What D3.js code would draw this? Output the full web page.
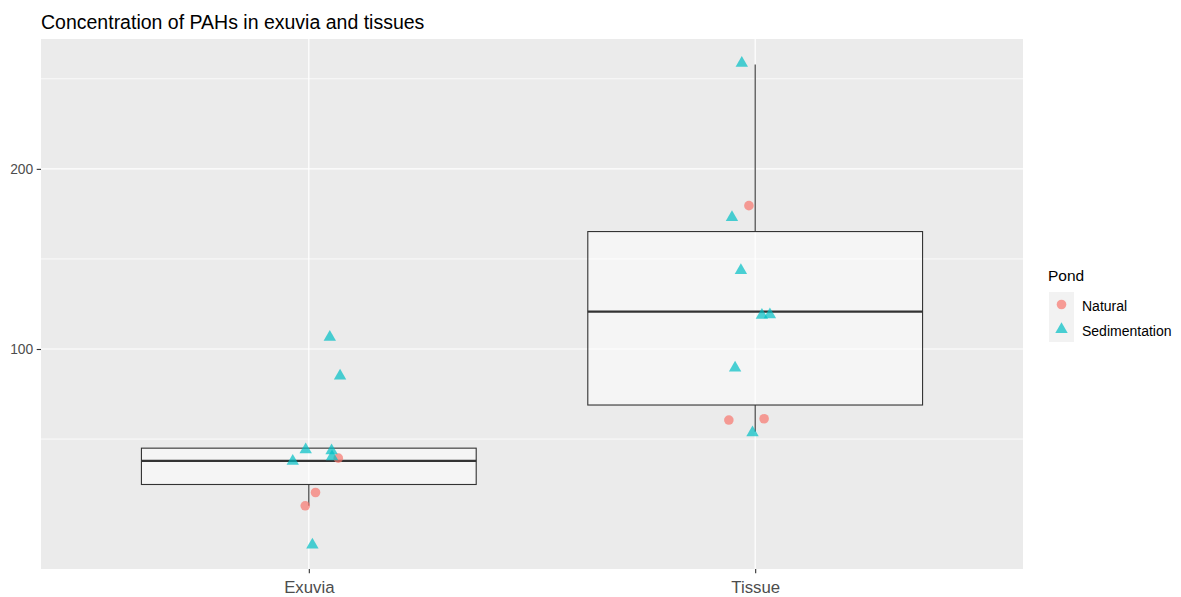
<!DOCTYPE html>
<html>
<head>
<meta charset="utf-8">
<script src="https://cdn.jsdelivr.net/npm/d3@7"></script>
<style>
  html, body { margin: 0; padding: 0; background: #ffffff; }
  svg { display: block; font-family: "Liberation Sans", Arial, sans-serif; }
</style>
</head>
<body>
<svg id="chart" width="1181" height="597"></svg>
<script>
// Categories and legend groups
const categories = ["Exuvia", "Tissue"];
const ponds = ["Natural", "Sedimentation"];
const pondColors = ["#F8766D", "#00BFC4"];

// Individual measurements (jittered horizontally within each category)
const pointCategory = [
  "Exuvia", "Exuvia", "Exuvia",
  "Exuvia", "Exuvia", "Exuvia", "Exuvia", "Exuvia", "Exuvia", "Exuvia",
  "Tissue", "Tissue", "Tissue",
  "Tissue", "Tissue", "Tissue", "Tissue", "Tissue", "Tissue", "Tissue"
];
const pointPond = [
  "Natural", "Natural", "Natural",
  "Sedimentation", "Sedimentation", "Sedimentation", "Sedimentation", "Sedimentation", "Sedimentation", "Sedimentation",
  "Natural", "Natural", "Natural",
  "Sedimentation", "Sedimentation", "Sedimentation", "Sedimentation", "Sedimentation", "Sedimentation", "Sedimentation"
];
const pointValue = [
  56.1, 44.9, 40.9,
  105.5, 88.0, 59.1, 58.7, 56.6, 55.1, 30.2,
  176.8, 70.0, 70.5,
  274.7, 169.6, 139.4, 116.2, 116.4, 91.5, 65.2
];
// horizontal jitter, in units of the category step
const pointJitter = [
  0.066, 0.015, -0.008,
  0.047, 0.070, -0.007, 0.051, 0.052, -0.036, 0.008,
  -0.014, -0.059, 0.020,
  -0.030, -0.052, -0.032, 0.015, 0.033, -0.045, -0.006
];

// Box summaries per category
const boxLower  = [40.9, 65.6];
const boxQ1     = [47.4, 75.9];
const boxMedian = [55.2, 117.9];
const boxQ3     = [59.6, 161.3];
const boxUpper  = [59.6, 273.7];

// Axis breaks
const yTicks = [100, 200];

const svg = d3.select("#chart");
const panel = { left: 41, top: 39, right: 1023, bottom: 569 };

// sqrt-transformed y scale, limits padded 5% in transformed space
const sq = pointValue.map(Math.sqrt);
const sMin = d3.min(sq), sMax = d3.max(sq), pad = (sMax - sMin) * 0.05;
const y = d3.scaleSqrt()
  .domain([Math.pow(sMin - pad, 2), Math.pow(sMax + pad, 2)])
  .range([panel.bottom, panel.top]);

const x = d3.scalePoint()
  .domain(categories)
  .range([panel.left, panel.right])
  .padding(0.6);
const step = x.step();

// Panel background
svg.append("rect")
  .attr("x", panel.left).attr("y", panel.top)
  .attr("width", panel.right - panel.left)
  .attr("height", panel.bottom - panel.top)
  .attr("fill", "#EBEBEB");

// Minor grid: midpoints between major breaks in transformed space
const sb = yTicks.map(Math.sqrt);
const bd = sb[1] - sb[0];
const ext = [sb[0] - bd, ...sb, sb[sb.length - 1] + bd];
const minorVals = [];
for (let i = 0; i < ext.length - 1; i++) minorVals.push(Math.pow((ext[i] + ext[i + 1]) / 2, 2));
const [d0, d1] = y.domain();
const grid = svg.append("g");
grid.selectAll("line.minor")
  .data(minorVals.filter(v => v >= d0 && v <= d1))
  .join("line")
  .attr("x1", panel.left).attr("x2", panel.right)
  .attr("y1", d => y(d)).attr("y2", d => y(d))
  .attr("stroke", "#ffffff").attr("stroke-width", 0.8);
grid.selectAll("line.majorY")
  .data(yTicks)
  .join("line")
  .attr("x1", panel.left).attr("x2", panel.right)
  .attr("y1", d => y(d)).attr("y2", d => y(d))
  .attr("stroke", "#ffffff").attr("stroke-width", 1.2);
grid.selectAll("line.majorX")
  .data(categories)
  .join("line")
  .attr("class", "majorX")
  .attr("x1", d => x(d)).attr("x2", d => x(d))
  .attr("y1", panel.top).attr("y2", panel.bottom)
  .attr("stroke", "#ffffff").attr("stroke-width", 1.2);

// Boxplots
const boxW = step * 0.75;
const boxes = svg.append("g");
categories.forEach((c, i) => {
  const cx = x(c);
  const g = boxes.append("g");
  g.append("line")
    .attr("x1", cx).attr("x2", cx)
    .attr("y1", y(boxUpper[i])).attr("y2", y(boxQ3[i]))
    .attr("stroke", "#333333").attr("stroke-width", 1.1);
  g.append("line")
    .attr("x1", cx).attr("x2", cx)
    .attr("y1", y(boxQ1[i])).attr("y2", y(boxLower[i]))
    .attr("stroke", "#333333").attr("stroke-width", 1.1);
  g.append("rect")
    .attr("x", cx - boxW / 2).attr("width", boxW)
    .attr("y", y(boxQ3[i])).attr("height", y(boxQ1[i]) - y(boxQ3[i]))
    .attr("fill", "#ffffff").attr("fill-opacity", 0.5)
    .attr("stroke", "#333333").attr("stroke-width", 1.1);
  g.append("line")
    .attr("x1", cx - boxW / 2).attr("x2", cx + boxW / 2)
    .attr("y1", y(boxMedian[i])).attr("y2", y(boxMedian[i]))
    .attr("stroke", "#333333").attr("stroke-width", 2.2);
});

// Point symbols
const color = d3.scaleOrdinal().domain(ponds).range(pondColors);
const circleR = 4.8;
const triSide = 12.4;
function trianglePath(cx, cy) {
  const h = triSide * Math.sqrt(3) / 2;
  return `M${cx},${cy - 2 * h / 3}L${cx + triSide / 2},${cy + h / 3}L${cx - triSide / 2},${cy + h / 3}Z`;
}
function drawSymbol(sel, pond, cx, cy, opacity) {
  if (pond === ponds[0]) {
    sel.append("circle").attr("cx", cx).attr("cy", cy).attr("r", circleR)
      .attr("fill", color(pond)).attr("fill-opacity", opacity);
  } else {
    sel.append("path").attr("d", trianglePath(cx, cy))
      .attr("fill", color(pond)).attr("fill-opacity", opacity);
  }
}
const pts = svg.append("g");
pointValue.forEach((v, i) => {
  const cx = x(pointCategory[i]) + pointJitter[i] * step;
  drawSymbol(pts, pointPond[i], cx, y(v), 0.7);
});

// Y axis
const yAxis = svg.append("g")
  .attr("transform", `translate(${panel.left},0)`)
  .call(d3.axisLeft(y).tickValues(yTicks).tickSize(4.3).tickPadding(3.5).tickFormat(d3.format("d")));
yAxis.select(".domain").remove();
yAxis.selectAll(".tick line").attr("stroke", "#333333").attr("stroke-width", 1.1);
yAxis.selectAll(".tick text")
  .attr("fill", "#4D4D4D").style("font-size", "13.8px")
  .style("font-family", "'Liberation Sans', Arial, sans-serif");

// X axis
const xAxis = svg.append("g")
  .attr("transform", `translate(0,${panel.bottom})`)
  .call(d3.axisBottom(x).tickSize(4.3).tickPadding(7.5));
xAxis.select(".domain").remove();
xAxis.selectAll(".tick line").attr("stroke", "#333333").attr("stroke-width", 1.1);
xAxis.selectAll(".tick text")
  .attr("fill", "#4D4D4D").style("font-size", "16.8px")
  .style("font-family", "'Liberation Sans', Arial, sans-serif");

// Title
svg.append("text")
  .attr("x", panel.left).attr("y", 29)
  .style("font-size", "19.5px").attr("fill", "#000000")
  .text("Concentration of PAHs in exuvia and tissues");

// Legend
const legend = svg.append("g").attr("transform", "translate(1048,0)");
legend.append("text")
  .attr("x", 0).attr("y", 281)
  .style("font-size", "15.5px").attr("fill", "#000000")
  .text("Pond");
const keySize = 25;
ponds.forEach((p, i) => {
  const ky = 292 + i * keySize;
  legend.append("rect")
    .attr("x", 1).attr("y", ky).attr("width", keySize).attr("height", keySize)
    .attr("fill", "#F2F2F2");
  drawSymbol(legend, p, 1 + keySize / 2, ky + keySize / 2, 0.7);
  legend.append("text")
    .attr("x", 34).attr("y", ky + keySize / 2 + 6.5)
    .style("font-size", "14px").attr("fill", "#000000")
    .text(p);
});
</script>
</body>
</html>
